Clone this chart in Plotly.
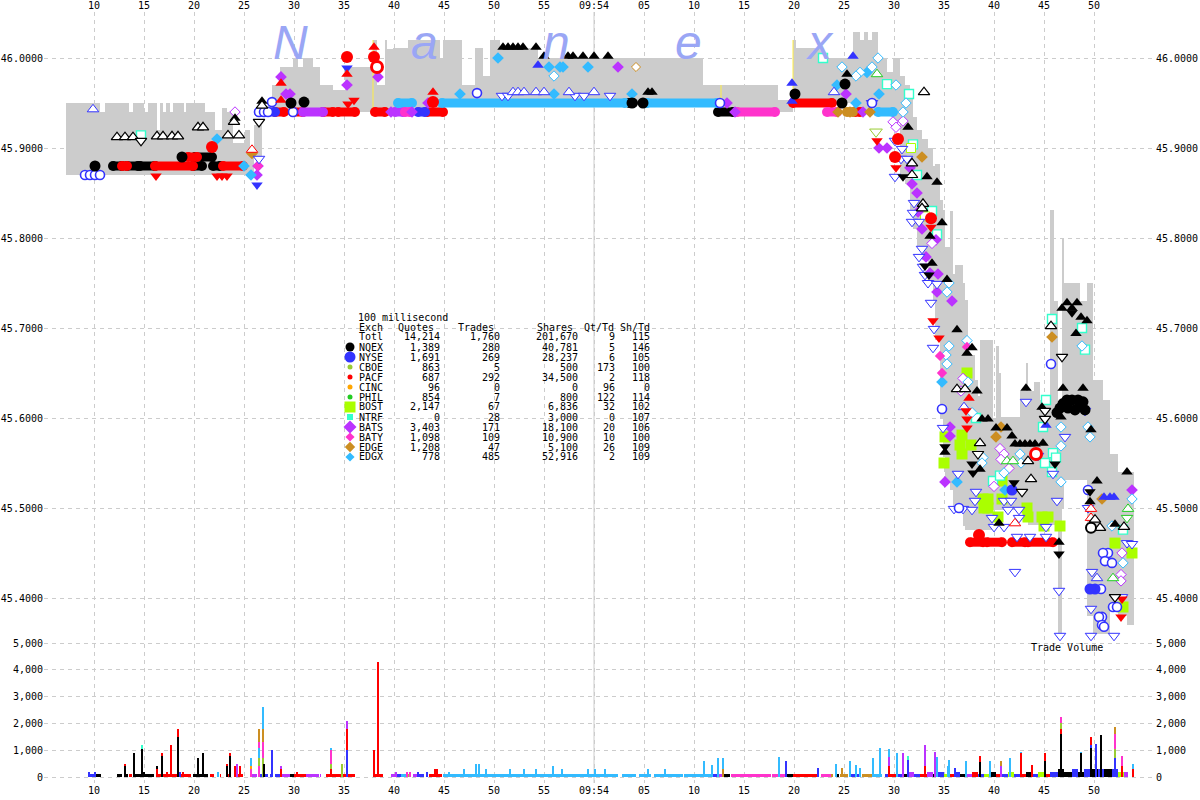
import plotly.graph_objects as go

# ---- time is seconds after 09:53:00; price in dollars; volume in shares ----
x_tickvals = [10,15,20,25,30,35,40,45,50,55,60,65,70,75,80,85,90,95,100,105,110]
x_ticktext = ["10","15","20","25","30","35","40","45","50","55","09:54","05","10","15","20","25","30","35","40","45","50"]
price_ticks = [46.0,45.9,45.8,45.7,45.6,45.5,45.4]
price_text = ["46.0000","45.9000","45.8000","45.7000","45.6000","45.5000","45.4000"]
vol_ticks = [0,1000,2000,3000,4000,5000]
vol_text = ["0","1,000","2,000","3,000","4,000","5,000"]

exch_names = ["NQEX","NYSE","CBOE","PACF","CINC","PHIL","BOST","NTRF","BATS","BATY","EDGE","EDGX"]
exch_colors = ["#000000","#3333ff","#99cc33","#ff0000","#ffa500","#22cc22","#aaff00","#33ffcc","#bb33ff","#ff33cc","#cc8e22","#33bbff"]
exch_quotes = ["1,389","1,691","863","687","96","854","2,147","0","3,403","1,098","1,208","778"]
exch_trades = ["280","269","5","292","0","7","67","28","171","109","47","485"]
exch_shares = ["40,781","28,237","500","34,500","0","800","6,836","3,000","18,100","10,900","5,100","52,916"]
exch_qttd = ["5","6","173","2","96","122","32","0","20","10","26","2"]
exch_shtd = ["146","105","100","118","0","114","102","107","106","100","109","109"]
legend_sizes = [9,11,5,5,5,5,11,6,10,7,8,7]
legend_symbols = ["circle","circle","circle","circle","circle","circle","square","square","diamond","diamond","diamond","diamond"]

# quote band
band_t = [7.2,10.6,11.1,13.5,13.9,15.0,15.4,16.3,16.6,16.9,
          17.2,17.6,17.9,19.0,19.2,21.1,22.1,22.8,23.3,23.9,
          25.1,25.6,26.0,26.8,27.8,28.6,29.9,30.4,30.9,31.9,
          32.6,33.9,35.1,37.9,38.3,39.1,39.3,39.9,41.4,44.6,
          44.9,46.8,48.1,48.9,49.6,50.6,54.4,70.9,72.6,78.4,
          79.9,80.2,82.8,85.9,86.6,87.0,87.4,87.8,88.4,89.3,
          89.9,90.6,91.1,91.6,91.9,92.3,92.8,93.4,93.9,94.1,
          94.6,94.9,95.1,95.6,95.9,96.1,96.9,97.1,97.4,98.1,
          98.4,98.6,99.9,100.2,100.5,100.7,101.0,102.6,103.2,103.4,
          104.0,104.6,105.6,106.0,106.4,106.8,107.0,107.9,108.6,109.3,
          109.9,110.9,111.6,112.4,113.3]
band_hi = [45.95,45.94,45.95,45.94,45.95,45.94,45.95,45.92,45.95,45.94,
           45.95,45.94,45.95,45.94,45.95,45.94,45.92,45.945,45.94,45.906,
           45.92,45.898,45.926,45.947,45.97,45.99,46.0,45.99,46.0,45.99,
           45.97,45.965,45.99,46.02,45.97,46.02,46.01,46.011,46.02,46.0,
           46.02,45.97,46.011,45.98,46.02,46.011,46.0,45.97,45.97,45.953,
           46.02,46.011,46.0,46.029,46.02,46.029,46.02,46.029,46.0,45.985,
           46.0,45.98,45.97,45.955,45.935,45.92,45.91,45.90,45.88,45.882,
           45.842,45.831,45.79,45.83,45.76,45.77,45.75,45.731,45.67,45.642,
           45.625,45.687,45.60,45.68,45.65,45.601,45.601,45.63,45.661,45.63,
           45.64,45.62,45.831,45.73,45.609,45.80,45.75,45.75,45.73,45.75,
           45.642,45.62,45.56,45.54,45.54]
band_lo = [45.87,45.87,45.87,45.87,45.87,45.87,45.87,45.87,45.87,45.87,
           45.87,45.87,45.87,45.87,45.87,45.87,45.87,45.87,45.87,45.87,
           45.87,45.87,45.889,45.94,45.94,45.94,45.94,45.94,45.94,45.94,
           45.94,45.94,45.94,45.94,45.94,45.94,45.94,45.945,45.945,45.95,
           45.95,45.95,45.95,45.95,45.95,45.95,45.95,45.95,45.94,45.94,
           45.95,45.95,45.95,45.94,45.94,45.94,45.94,45.94,45.94,45.94,
           45.93,45.87,45.86,45.83,45.81,45.79,45.776,45.753,45.731,45.687,
           45.60,45.557,45.53,45.52,45.50,45.498,45.48,45.476,45.476,45.476,
           45.476,45.476,45.498,45.498,45.498,45.498,45.498,45.498,45.498,45.481,
           45.481,45.481,45.481,45.481,45.357,45.50,45.531,45.531,45.531,45.38,
           45.36,45.36,45.39,45.38,45.37]
yellow_t = [37.9,72.7,79.9]
yellow_lo = [45.94,45.95,45.95]
yellow_hi = [46.02,45.97,46.02]

# continuous rows of quotes: price, start, end
red_run_p = [45.88,45.88,45.88,45.89,45.94,45.94,45.94,45.94,45.94,45.94,45.94,45.95,45.462,45.462,45.462,45.462]
red_run_a = [12.8,16.1,22.9,19.4,28.1,29.9,32.9,34.4,38.1,43.3,86.1,79.9,97.6,99.3,101.8,103.4]
red_run_b = [13.3,19.9,24.9,20.3,29.0,30.9,33.9,36.1,39.1,44.9,86.6,83.8,98.9,100.8,103.1,105.9]
black_run_p = [45.88,45.88,45.88,45.88,45.88,45.89,45.94,45.95]
black_run_a = [11.9,13.3,14.6,19.9,21.9,20.1,72.4,63.5]
black_run_b = [12.8,14.4,16.1,20.8,22.6,21.8,73.9,63.9]
purple_run_p = [45.94,45.94]
purple_run_a = [30.9,40.1]
purple_run_b = [32.9,40.9]
sky_run_p = [45.95,45.95,45.95,45.94]
sky_run_a = [40.4,44.8,65.3,88.4]
sky_run_b = [41.8,63.1,72.3,89.9]
pink_run_p = [45.94,45.94,45.94]
pink_run_a = [74.3,83.3,41.1]
pink_run_b = [78.1,84.3,41.6]
brown_run_p = [45.94]
brown_run_a = [85.3]
brown_run_b = [85.9]
blue_run_p = [45.94,45.94]
blue_run_a = [42.4,26.5]
blue_run_b = [43.1,28.1]

# individual quote and trade marks
blk_up_t = [24.1,26.8,85.3,91.4,93.3,94.3,94.8,93.6,95.3,96.3,97.8,97.3,98.3,98.8,99.4,100.2,101.3,101.8,102.1,102.6,103.1,103.6,104.1,104.9,103.2,106.9,108.9,107.3,108.3,106.8,107.8,108.7,109.3,108.2,106.7,106.5,110.3,113.3,109.6,112.1,100.5,95.1,109.7,50.9,51.4,51.9,52.4,52.9,54.2,55.0,57.4,57.9,58.9,60.0,61.4,65.4,65.8,98.6,93.8,104.8]
blk_up_p = [45.933,45.952,45.982,45.923,45.868,45.862,45.817,45.802,45.754,45.698,45.678,45.672,45.63,45.599,45.599,45.589,45.589,45.58,45.571,45.571,45.571,45.571,45.571,45.572,45.633,45.633,45.633,45.728,45.728,45.722,45.722,45.712,45.708,45.694,45.601,45.462,45.53,45.54,45.507,45.482,45.483,45.562,45.587,46.012,46.012,46.012,46.012,46.012,46.012,46.002,46.002,46.002,46.002,46.002,46.002,45.962,45.962,45.543,45.772,45.612]
blk_dn_t = [90.9,93.5,97.8,97.9,107.8,95.1,102.0,106.1,106.5,109.6,93.1]
blk_dn_p = [45.868,45.759,45.549,45.539,45.717,45.568,45.528,45.549,45.449,45.518,45.769]
blk_c_t = [10.1,18.8,29.7,31.0,80.1,85.1,84.8,63.8,64.9,107.3,107.8,106.6,107.4,108.4,108.9,108.1,109.1,106.9,108.6,106.3]
blk_c_p = [45.88,45.89,45.95,45.951,45.96,45.971,45.95,45.95,45.95,45.62,45.62,45.611,45.611,45.62,45.618,45.609,45.609,45.616,45.613,45.606]
hblk_up_t = [12.3,13.1,13.9,16.3,16.9,17.8,18.4,20.4,20.9,23.4,24.5,24.0,26.8,91.8,91.8,92.9,92.8,93.0,96.3,97.1,98.6,103.4,103.7,105.7,110.6,110.1,113.0]
hblk_up_p = [45.912,45.912,45.912,45.913,45.913,45.913,45.913,45.923,45.923,45.914,45.914,45.929,45.947,45.883,45.87,45.838,45.833,45.962,45.632,45.632,45.572,45.552,45.532,45.702,45.478,45.487,45.479]
hblk_dn_t = [14.7,26.5,98.4,102.8,105.1,105.1,106.8,112.1]
hblk_dn_p = [45.908,45.929,45.56,45.518,45.608,45.599,45.668,45.401]
hblk_c_t = [109.7]
hblk_c_p = [45.478]
hblue_dn_t = [87.8,90.1,90.8,90.7,91.3,90.1,92.0,91.9,91.8,92.5,92.8,92.5,92.9,93.1,93.4,94.3,93.7,94.0,93.9,96.4,98.2,98.1,103.2,104.4,105.9,107.1,101.0,101.7,101.4,102.5,106.3,99.8,102.5,100.0,101.0,105.2,102.3,103.6,105.2,102.1,106.5,106.6,109.7,112.0,109.7,109.8,109.4,112.8,113.3,113.8,109.1,50.8,51.4,58.1,59.0,61.6,26.5,94.9,96.0,96.9,97.8]
hblue_dn_p = [45.95,45.908,45.899,45.888,45.888,45.868,45.839,45.828,45.818,45.818,45.788,45.779,45.768,45.759,45.75,45.749,45.728,45.699,45.678,45.538,45.518,45.508,45.618,45.558,45.538,45.579,45.508,45.508,45.498,45.498,45.508,45.489,45.489,45.479,45.479,45.479,45.468,45.468,45.468,45.429,45.408,45.358,45.358,45.358,45.388,45.429,45.5,45.401,45.461,45.46,45.608,45.958,45.958,45.958,45.958,45.958,45.888,45.589,45.499,45.499,45.498]
hblue_up_t = [9.9,51.9,52.4,53.0,54.2,55.0,57.5,60.0,84.0,97.0,110.3]
hblue_up_p = [45.943,45.962,45.962,45.962,45.962,45.962,45.962,45.962,45.962,45.612,45.422]
hblue_c_t = [9.1,9.6,10.1,10.6,26.5,27.0,27.4,27.8,29.9,48.3,72.6,87.8,94.8,105.7,109.4,110.7,111.9,112.3,110.8,110.5,110.8,111.0,111.4,110.9,111.1,111.8,96.5]
hblue_c_p = [45.87,45.87,45.87,45.87,45.94,45.94,45.94,45.951,45.94,45.961,45.95,45.95,45.61,45.66,45.52,45.41,45.39,45.39,45.379,45.379,45.37,45.368,45.45,45.45,45.441,45.439,45.5]
blue_up_t = [54.4,79.8,79.8,105.2,111.0,111.6,112.0,85.9]
blue_up_p = [45.992,45.972,45.952,45.592,45.512,45.512,45.512,46.002]
blue_dn_t = [26.3,35.3]
blue_dn_p = [45.859,45.989]
blue_c_t = [101.8,110.1,109.6]
blue_c_p = [45.52,45.41,45.41]
red_c_t = [21.8,35.3,38.0,90.4,90.1,98.5,43.9,93.7]
red_c_p = [45.901,46.001,46.001,45.91,45.89,45.47,45.951,45.822]
red_up_t = [28.7,28.7,35.3,38.0,43.9,97.5]
red_up_p = [45.953,45.972,45.982,46.012,45.962,45.622]
red_dn_t = [16.2,22.3,22.8,23.3,35.4,36.0,88.3,90.2,93.7,93.9,94.5,97.2,97.3,97.3,112.8,112.7]
red_dn_p = [45.869,45.869,45.869,45.869,45.949,45.953,45.908,45.878,45.812,45.708,45.689,45.608,45.599,45.589,45.399,45.379]
hred_up_t = [102.1,109.7,109.7,25.8]
hred_up_p = [45.483,45.499,45.489,45.898]
hred_c_t = [38.3,104.2]
hred_c_p = [45.99,45.56]
purple_t = [28.7,29.2,29.6,35.3,38.4,39.7,43.4,41.8,26.4,26.3,73.3,74.1,86.9,85.2,62.4,88.5,89.3,91.6,91.8,92.3,92.4,92.8,94.2,93.2,93.6,94.4,94.3,95.8,95.6,95.6,95.1,113.8]
purple_p = [45.979,45.96,45.96,45.97,45.979,45.94,45.95,45.94,45.88,45.87,45.95,45.94,45.94,45.96,45.99,45.9,45.9,45.878,45.86,45.85,45.829,45.81,45.798,45.779,45.761,45.76,45.74,45.73,45.59,45.58,45.529,45.52]
hpurple_t = [24.1,89.9,90.9,90.2,93.8,96.9,96.7,100.6,101.0,100.7,101.5,100.0,112.7,112.7,112.8]
hpurple_p = [45.94,45.929,45.93,45.923,45.794,45.644,45.63,45.566,45.56,45.554,45.544,45.524,45.426,45.419,45.45]
sky_t = [22.3,25.0,25.7,46.6,50.4,55.5,56.6,56.9,59.4,56.0,63.8,84.3,87.3,86.2,88.5,94.8,96.3,101.1]
sky_p = [45.91,45.88,45.87,45.96,46.0,45.99,45.99,45.99,45.99,45.96,45.96,45.97,45.984,45.95,45.96,45.64,45.529,45.52]
hsky_t = [56.0,84.8,87.8,86.6,86.2,88.4,90.2,91.2,90.9,95.5,95.3,97.3,95.5,95.2,95.3,97.4,97.8,98.9,98.8,102.6,102.7,101.0,106.7,106.7,106.7,108.8,109.6,109.4,111.8,112.9,113.8]
hsky_p = [45.98,45.99,45.99,45.984,45.98,46.0,45.97,45.95,45.94,45.75,45.74,45.686,45.68,45.67,45.66,45.64,45.606,45.556,45.55,45.56,45.55,45.539,45.59,45.569,45.529,45.68,45.579,45.59,45.48,45.439,45.51]
brown_t = [25.8,84.4,85.6,87.6,92.8,100.7,100.2,105.8,110.8]
brown_p = [45.894,45.94,45.94,45.94,45.89,45.59,45.579,45.69,45.51]
hbrown_t = [64.2]
hbrown_p = [45.99]
pink_t = [26.4,97.3,94.6,94.8]
pink_p = [45.88,45.679,45.669,45.65]
lime_t = [96.8,96.6,97.7,96.8,95.1,95.0,97.3,98.9,99.0,99.4,99.4,100.8,100.8,100.4,103.3,103.4,104.8,105.4,106.6,105.0,112.1,113.8,112.9]
lime_p = [45.581,45.57,45.57,45.56,45.579,45.55,45.65,45.51,45.5,45.5,45.51,45.53,45.51,45.49,45.5,45.49,45.49,45.49,45.48,45.48,45.461,45.45,45.39]
hteal_t = [14.7,82.9,89.3,91.5,91.9,92.3,93.8,94.3,98.2,105.9,106.2,105.1,105.8,105.2,104.9,99.9,100.6,105.8,108.8,109.1,112.9]
hteal_p = [45.914,46.0,45.971,45.96,45.904,45.87,45.83,45.804,45.6,45.561,45.556,45.55,45.54,45.62,45.59,45.53,45.536,45.71,45.7,45.676,45.476]
hlime_t = [91.7,93.1]
hlime_p = [45.9,45.824]
hlime_dn_t = [88.2]
hlime_dn_p = [45.918]
hgreen_up_t = [88.3,101.3,101.9,111.9,113.4]
hgreen_up_p = [45.982,45.552,45.552,45.422,45.499]
hgreen_dn_t = [113.3]
hgreen_dn_p = [45.489]

# trade volume: near-continuous low bars per exchange
vol_run_a = [9.6,10.1,12.3,13.1,13.5,13.9,14.9,16.4,17.4,19.9,
             21.6,22.6,23.2,24.0,25.7,26.4,27.6,28.1,28.7,29.6,
             30.0,30.7,31.2,32.6,33.2,34.8,35.4,38.0,38.4,39.7,
             40.2,40.7,41.3,41.9,42.4,43.2,43.5,44.9,62.8,64.5,
             66.0,69.0,71.8,72.3,72.5,73.0,73.7,77.8,79.3,79.9,
             82.7,83.7,84.1,84.6,85.6,86.8,87.9,89.1,89.5,90.2,
             90.8,91.4,92.0,92.6,93.3,93.9,94.4,95.0,95.6,96.1,
             96.6,97.2,97.8,98.4,99.0,99.6,100.2,100.8,101.4,102.0,
             102.6,103.2,103.8,104.4,105.0,105.6,106.4,107.0,107.8,108.4,
             109.0,109.8,110.4,111.0,111.8,112.4,113.0]
vol_run_b = [10.1,10.7,12.8,13.4,13.8,14.9,16.0,17.2,19.7,21.4,
             22.0,22.7,23.7,24.9,26.3,27.4,27.9,28.6,29.6,30.0,
             30.7,31.2,32.5,32.7,34.7,35.4,36.1,38.4,38.9,40.2,
             40.7,41.3,41.5,42.4,43.0,43.4,44.8,62.4,64.2,65.7,
             68.9,71.8,72.3,72.5,73.0,73.6,77.7,79.2,79.9,82.5,
             83.7,83.9,84.5,85.4,86.7,87.8,88.8,89.5,90.2,90.8,
             91.4,92.0,92.6,93.3,93.9,94.4,95.0,95.6,96.1,96.6,
             97.2,97.8,98.4,99.0,99.6,100.2,100.8,101.4,102.0,102.6,
             103.2,103.8,104.4,105.0,105.6,106.4,107.0,107.8,108.4,109.0,
             109.8,110.4,111.0,111.8,112.4,113.0,113.4]
vol_run_x = [1,0,0,0,3,0,0,3,3,0,
             3,3,3,3,8,1,1,1,8,0,
             3,3,8,8,3,3,3,3,3,8,
             1,11,2,8,1,1,3,11,11,11,
             11,11,1,0,8,0,9,9,0,3,
             9,10,0,10,1,10,11,1,3,1,
             0,8,1,3,8,0,1,6,3,1,
             0,8,3,1,6,0,3,1,6,1,
             3,0,1,6,3,1,0,0,1,0,
             1,0,1,0,1,6,8]
vol_run_h = [100,100,100,100,100,100,100,100,100,100,
             100,100,100,100,100,100,100,100,100,100,
             100,100,100,100,100,100,100,100,100,100,
             100,100,100,100,100,100,100,100,100,100,
             100,100,100,100,100,100,100,100,100,100,
             100,100,100,100,100,100,100,100,100,100,
             100,200,100,100,200,100,200,100,100,200,
             100,100,200,100,100,200,100,100,200,100,
             100,200,100,200,100,200,300,200,300,200,
             300,300,300,300,300,200,200]

# individual volume spikes (colours of one stack are overlaid tallest first)
spike_t = [9.5,10.1,13.1,13.1,14.0,14.8,14.8,15.0,16.3,16.3,
           16.8,16.8,17.3,17.7,18.4,18.4,18.6,18.9,20.4,20.9,
           22.4,23.3,23.3,23.6,23.6,24.1,24.3,24.6,25.7,25.7,
           25.7,26.5,26.5,26.5,26.5,26.5,26.9,26.9,26.9,26.9,
           27.0,27.8,28.7,28.7,30.3,33.7,33.7,33.7,33.7,34.8,
           35.3,35.3,35.3,38.0,38.4,40.2,41.3,41.6,42.4,43.3,
           44.1,44.3,45.5,47.0,48.2,48.5,49.2,51.6,53.0,54.2,
           55.9,56.8,59.4,60.1,61.1,65.4,67.1,71.0,71.8,72.4,
           72.9,72.9,78.5,79.2,82.4,84.2,84.8,85.6,86.2,86.6,
           87.9,88.6,89.5,89.5,89.5,90.3,90.9,91.4,91.4,93.1,
           93.1,94.1,94.3,95.5,95.4,96.1,97.2,98.6,98.6,99.6,
           100.7,100.7,101.6,102.7,102.7,103.8,105.1,105.1,106.7,106.7,
           106.7,106.7,108.7,108.7,109.7,109.7,109.7,110.2,110.7,112.1,
           112.1,112.1,112.1,112.8,112.8,113.9,113.9]
spike_v = [200,200,500,400,900,1180,1050,200,400,300,
           900,800,200,1200,1800,1500,200,200,700,900,
           200,500,400,900,800,400,500,400,700,400,
           300,1800,1300,1100,700,400,2600,1800,1300,700,
           500,1000,400,300,200,1100,1000,500,300,500,
           2100,1800,1000,1000,4300,200,200,200,200,200,
           300,300,200,300,500,500,300,300,300,300,
           400,300,300,300,300,300,300,600,450,700,
           700,300,750,600,350,500,350,600,450,350,
           700,1100,1050,750,400,900,900,800,650,1200,
           400,950,750,650,400,350,600,800,550,600,
           600,400,700,950,900,450,900,600,2250,2000,
           1800,1600,950,900,1500,1200,1100,1250,1550,1850,
           1600,1050,700,800,400,500,300]
spike_x = [1,1,3,0,0,7,0,0,0,3,
           3,0,3,3,3,0,1,3,0,0,
           11,3,0,3,0,3,8,3,11,4,
           9,10,9,11,2,9,11,10,9,2,
           0,1,8,3,3,11,9,2,3,2,
           8,3,1,3,3,8,9,9,1,1,
           3,3,11,11,11,11,11,11,11,11,
           11,11,11,11,11,11,11,11,11,11,
           11,10,11,1,1,11,10,11,11,11,
           11,11,11,8,3,11,8,7,1,8,
           3,8,11,11,11,1,11,3,0,11,
           10,8,11,11,3,3,3,0,9,2,
           3,0,11,0,3,1,0,1,0,10,
           9,2,1,9,3,11,3]

band_w = [b - a for a, b in zip(band_t, band_t[1:] + [114.0])]

# ---- layout constants (page pixels) ----
W, H = 1200, 800
L, R, T, B = 44, 1155, 12, 783
def t_at(px): return px / 10 + 0.6
def p_at(py): return 46.0 - (py - 58) / 900
def v_at(py): return (777 - py) / 0.0268
def px_x(px): return (px - L) / (R - L)
def px_y(py): return (B - py) / (B - T)

fig = go.Figure()
fig.add_bar(x=[a + w / 2 for a, w in zip(band_t, band_w)], y=[h - l for h, l in zip(band_hi, band_lo)],
            base=band_lo, width=band_w, marker=dict(color="#cccccc", line_width=0), hoverinfo="skip")
yx, yy = [], []
for t, a, b in zip(yellow_t, yellow_lo, yellow_hi):
    yx += [t, t, None]; yy += [a, b, None]
fig.add_scatter(x=yx, y=yy, mode="lines", line=dict(color="#ffee44", width=1), hoverinfo="skip")

def runs(a, b, p, color):
    xs, ys = [], []
    for s, e, v in zip(a, b, p):
        xs += [s, e, None]; ys += [v, v, None]
    fig.add_scatter(x=xs, y=ys, mode="lines+markers", line=dict(color=color, width=9),
                    marker=dict(symbol="circle", size=10, color=color, line_width=0), hoverinfo="skip")

C = dict(zip(exch_names, exch_colors))
def marks(t, p, symbol, size, color, hollow=False, lw=1.0):
    m = dict(symbol=symbol, size=size)
    if hollow:
        m.update(color="#ffffff", line=dict(color=color, width=lw))
    else:
        m.update(color=color, line=dict(color=color, width=0))
    fig.add_scatter(x=t, y=p, mode="markers", marker=m, hoverinfo="skip")

runs(black_run_a, black_run_b, black_run_p, C["NQEX"])
runs(red_run_a, red_run_b, red_run_p, C["PACF"])
runs(purple_run_a, purple_run_b, purple_run_p, C["BATS"])
runs(sky_run_a, sky_run_b, sky_run_p, C["EDGX"])
runs(pink_run_a, pink_run_b, pink_run_p, C["BATY"])
runs(brown_run_a, brown_run_b, brown_run_p, C["EDGE"])
runs(blue_run_a, blue_run_b, blue_run_p, C["NYSE"])

UP, DN = "triangle-up", "triangle-down"
marks(lime_t, lime_p, "square", 11, C["BOST"])
marks(hteal_t, hteal_p, "square", 9, C["NTRF"], True, 1.4)
marks(hlime_t, hlime_p, "square", 9, C["BOST"], True)
marks(hlime_dn_t, hlime_dn_p, DN, 11, C["CBOE"], True)
marks(purple_t, purple_p, "diamond", 9, C["BATS"])
marks(hpurple_t, hpurple_p, "diamond", 8, C["BATS"], True)
marks(sky_t, sky_p, "diamond", 9, C["EDGX"])
marks(hsky_t, hsky_p, "diamond", 8, C["EDGX"], True)
marks(brown_t, brown_p, "diamond", 9, C["EDGE"])
marks(hbrown_t, hbrown_p, "diamond", 7, C["EDGE"], True)
marks(pink_t, pink_p, "diamond", 8, C["BATY"])
marks(hgreen_up_t, hgreen_up_p, UP, 10, C["PHIL"], True)
marks(hgreen_dn_t, hgreen_dn_p, DN, 10, C["PHIL"], True)
marks(hblue_dn_t, hblue_dn_p, DN, 10, C["NYSE"], True)
marks(hblue_up_t, hblue_up_p, UP, 10, C["NYSE"], True)
marks(hblue_c_t, hblue_c_p, "circle", 9, C["NYSE"], True, 1.6)
marks(blue_up_t, blue_up_p, UP, 10, C["NYSE"])
marks(blue_dn_t, blue_dn_p, DN, 10, C["NYSE"])
marks(blue_c_t, blue_c_p, "circle", 11, C["NYSE"])
marks(red_up_t, red_up_p, UP, 10, C["PACF"])
marks(red_dn_t, red_dn_p, DN, 10, C["PACF"])
marks(red_c_t, red_c_p, "circle", 12, C["PACF"])
marks(hred_up_t, hred_up_p, UP, 10, C["PACF"], True)
marks(hred_c_t, hred_c_p, "circle", 11, C["PACF"], True, 3)
marks(blk_up_t, blk_up_p, UP, 10, C["NQEX"])
marks(blk_dn_t, blk_dn_p, DN, 10, C["NQEX"])
marks(blk_c_t, blk_c_p, "circle", 11, C["NQEX"])
marks(hblk_up_t, hblk_up_p, UP, 10, C["NQEX"], True, 1.2)
marks(hblk_dn_t, hblk_dn_p, DN, 10, C["NQEX"], True, 1.2)
marks(hblk_c_t, hblk_c_p, "circle", 10, C["NQEX"], True, 2)

# volume panel
fig.add_bar(x=[(a + b) / 2 for a, b in zip(vol_run_a, vol_run_b)], y=vol_run_h,
            width=[b - a for a, b in zip(vol_run_a, vol_run_b)],
            marker=dict(color=[exch_colors[i] for i in vol_run_x], line_width=0), yaxis="y3", hoverinfo="skip")
order = sorted(range(len(spike_t)), key=lambda i: -spike_v[i])
fig.add_bar(x=[spike_t[i] for i in order], y=[spike_v[i] for i in order], width=0.06,
            marker=dict(color=[exch_colors[spike_x[i]] for i in order], line_width=0), yaxis="y3", hoverinfo="skip")

# legend keys
for i, n in enumerate(exch_names):
    fig.add_scatter(x=[t_at(350)], y=[p_at(347 + 10 * i)], mode="markers",
                    marker=dict(symbol=legend_symbols[i], size=legend_sizes[i], color=exch_colors[i], line_width=0),
                    hoverinfo="skip")

# invisible traces so that the mirror axes are drawn
fig.add_scatter(x=[x_tickvals[0]], y=[price_ticks[0]], xaxis="x2", yaxis="y2", mode="markers", marker=dict(opacity=0), hoverinfo="skip")
fig.add_scatter(x=[x_tickvals[0]], y=[vol_ticks[0]], xaxis="x2", yaxis="y4", mode="markers", marker=dict(opacity=0), hoverinfo="skip")

FONT = dict(family="DejaVu Sans Mono", size=10, color="#000000")
x_rng = [t_at(L), t_at(R)]
p_rng = [p_at(B), p_at(T)]
v_rng = [v_at(B), v_at(T)]
grid = dict(showgrid=True, gridcolor="#cccccc", griddash="4px,4px", gridwidth=1, zeroline=False, showline=False,
            tickfont=FONT, tickmode="array", ticks="", ticklen=0, automargin=False)
nogrid = dict(showgrid=False, zeroline=False, showline=False, tickfont=FONT, tickmode="array", ticks="", automargin=False)

anns = []
def txt(px, py, s, anchor="right", **kw):
    f = dict(FONT); f.update(kw)
    anns.append(dict(xref="paper", yref="paper", x=px_x(px), y=px_y(py), text=s, showarrow=False,
                     xanchor=anchor, yanchor="middle", font=f, borderpad=0))

txt(357, 317, "100 millisecond", "left")
for px, head in [(435, "Quotes"), (495, "Trades"), (574, "Shares"), (615, "Qt/Td"), (651, "Sh/Td")]:
    txt(px, 327, head)
txt(358, 327, "Exch", "left")
txt(358, 337, "Totl", "left")
for px, v in [(441, "14,214"), (501, "1,760"), (579, "201,670"), (616, "9"), (651, "115")]:
    txt(px, 337, v)
for i, n in enumerate(exch_names):
    y = 347 + 10 * i
    txt(358, y, n, "left")
    txt(441, y, exch_quotes[i]); txt(501, y, exch_trades[i]); txt(579, y, exch_shares[i])
    txt(616, y, exch_qttd[i]); txt(651, y, exch_shtd[i])
txt(1067, 647, "Trade Volume", "center")
for px, ch in [(290, "N"), (424, "a"), (556, "n"), (688, "e"), (820, "x")]:
    anns.append(dict(xref="paper", yref="paper", x=px_x(px), y=px_y(58), text="<i>%s</i>" % ch, showarrow=False,
                     xanchor="center", yanchor="middle",
                     font=dict(family="Liberation Sans", size=48, color="#9aa6f5"), yshift=16))

fig.update_layout(
    width=W, height=H, autosize=False, showlegend=False, barmode="overlay", bargap=0,
    margin=dict(l=L, r=W - R, t=T, b=H - B, pad=0, autoexpand=False),
    plot_bgcolor="#ffffff", paper_bgcolor="#ffffff", annotations=anns,
    xaxis=dict(range=x_rng, tickvals=x_tickvals, ticktext=x_ticktext, anchor="y", side="bottom", **grid),
    xaxis2=dict(range=x_rng, tickvals=x_tickvals, ticktext=x_ticktext, overlaying="x", side="top", anchor="y", **nogrid),
    yaxis=dict(range=p_rng, tickvals=price_ticks, ticktext=price_text, side="left", **grid),
    yaxis2=dict(range=p_rng, tickvals=price_ticks, ticktext=price_text, side="right", overlaying="y", anchor="x", **nogrid),
    yaxis3=dict(range=v_rng, tickvals=vol_ticks, ticktext=vol_text, side="left", overlaying="y", anchor="x", **grid),
    yaxis4=dict(range=v_rng, tickvals=vol_ticks, ticktext=vol_text, side="right", overlaying="y", anchor="x", **nogrid),
    shapes=[dict(type="line", xref="x", yref="paper", x0=60, x1=60, y0=0, y1=1, line=dict(color="#cccccc", width=1), layer="below")],
)
fig.write_html("out.html", config={"displayModeBar": False},
               post_script="document.body.style.margin='0';document.body.style.overflow='hidden';")
